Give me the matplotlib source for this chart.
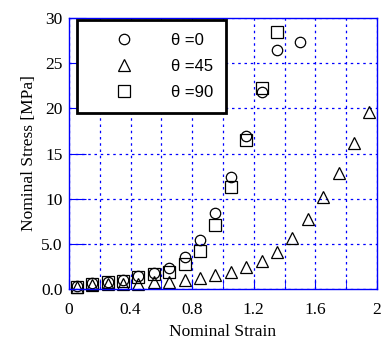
import matplotlib
matplotlib.use("Agg")
import matplotlib.pyplot as plt
import numpy as np

# data
x_circ = [0.05, 0.15, 0.25, 0.35, 0.45, 0.55, 0.65, 0.75, 0.85, 0.95, 1.05, 1.15, 1.25, 1.35, 1.50]
y_circ = [0.3, 0.7, 0.8, 1.05, 1.45, 1.75, 2.3, 3.5, 5.4, 8.4, 12.4, 16.9, 21.8, 26.5, 27.3]

x_sq = [0.05, 0.15, 0.25, 0.35, 0.45, 0.55, 0.65, 0.75, 0.85, 0.95, 1.05, 1.15, 1.25, 1.35]
y_sq = [0.2, 0.6, 0.75, 0.9, 1.35, 1.65, 1.9, 2.75, 4.2, 7.1, 11.3, 16.5, 22.3, 28.5]

x_tri = [0.05, 0.15, 0.25, 0.35, 0.45, 0.55, 0.65, 0.75, 0.85, 0.95,
         1.05, 1.15, 1.25, 1.35, 1.45, 1.55, 1.65, 1.75, 1.85, 1.95]
y_tri = [0.2, 0.4, 0.5, 0.55, 0.6, 0.75, 0.75, 1.0, 1.2, 1.5,
         1.9, 2.4, 3.1, 4.1, 5.7, 7.7, 10.2, 12.8, 16.2, 19.6]

labels = ["\u03b8 =0", "\u03b8 =45", "\u03b8 =90"]

plt.rcParams['font.family'] = ['Liberation Serif', 'DejaVu Serif']

fig = plt.figure(figsize=(3.82, 3.47), dpi=100)
ax = fig.add_axes([69/382, 58/347, 308/382, 271/347])

ms = 7.5
h1, = ax.plot(x_circ, y_circ, 'o', mfc='none', mec='black', ms=ms, mew=0.9, clip_on=False)
h2, = ax.plot(x_tri, y_tri, '^', mfc='none', mec='black', ms=ms + 1.5, mew=0.9, clip_on=False)
h3, = ax.plot(x_sq, y_sq, 's', mfc='none', mec='black', ms=ms + 0.8, mew=0.9, clip_on=False)

ax.set_xlim(0, 2)
ax.set_ylim(0, 30)
ax.set_xticks([0, 0.4, 0.8, 1.2, 1.6, 2])
ax.set_xticklabels(['0', '0.4', '0.8', '1.2', '1.6', '2'])
ax.set_xticks(np.arange(0, 2.01, 0.2), minor=True)
ax.set_yticks([0, 5, 10, 15, 20, 25, 30])
ax.set_yticklabels(['0.0', '5.0', '10', '15', '20', '25', '30'])

ax.grid(True, which='both', color='blue', linestyle=(0, (2, 3)), linewidth=0.9)
ax.tick_params(which='both', direction='in', color='blue', labelsize=12.5)
ax.tick_params(axis='x', which='both', length=7, pad=9)
ax.tick_params(axis='y', which='major', length=12, pad=4.5)
for s in ax.spines.values():
    s.set_color('blue')
    s.set_linewidth(1.0)

ax.set_xlabel('Nominal Strain', fontsize=12.5, labelpad=5)
ax.set_ylabel('Nominal Stress [MPa]', fontsize=12.5, labelpad=3)

leg = ax.legend([h1, h2, h3], labels, loc='upper left',
                bbox_to_anchor=(0.026, 0.993), fancybox=False, framealpha=1,
                edgecolor='black', prop={'family': 'Liberation Sans', 'size': 12},
                borderpad=0.8, labelspacing=0.65, handletextpad=0.82,
                handlelength=4.0, borderaxespad=0, markerscale=1.0)
leg.get_frame().set_linewidth(2.0)
leg.set_zorder(5)

fig.savefig('out.png', dpi=100)
